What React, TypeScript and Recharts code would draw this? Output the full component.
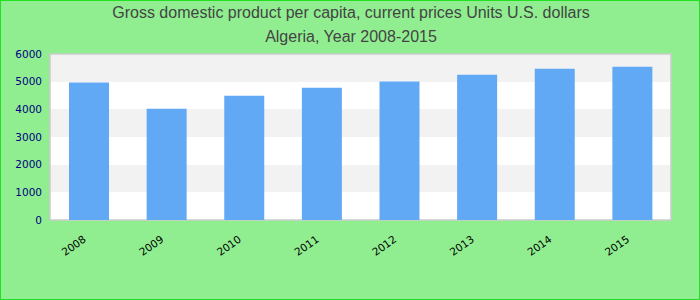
import React from 'react';
import { Bar, BarChart, CartesianGrid, ReferenceArea, XAxis, YAxis } from 'recharts';

const years = ['2008', '2009', '2010', '2011', '2012', '2013', '2014', '2015'];
const gdpPerCapita = [4966, 4022, 4493, 4783, 5005, 5254, 5471, 5543];
const yTicks = [0, 1000, 2000, 3000, 4000, 5000, 6000];

const chartData = years.map((year, i) => ({ year, value: gdpPerCapita[i] }));

const YearTick = (props: any) => {
  const { x, y, payload } = props;
  return (
    <text
      x={x - 2}
      y={y + 13}
      transform={`rotate(-35, ${x - 2}, ${y + 13})`}
      textAnchor="end"
      fontSize={10.5}
      fontFamily="DejaVu Sans, sans-serif"
      fill="#000"
    >
      {payload.value}
    </text>
  );
};

const App: React.FC = () => {
  return (
    <div
      style={{
        position: 'absolute',
        left: 0,
        top: 0,
        width: 700,
        height: 300,
        background: '#90ee90',
        border: '1px solid #22e022',
        boxSizing: 'border-box',
        fontFamily: 'Liberation Sans, Arial, sans-serif',
      }}
    >
      <div
        style={{
          position: 'absolute',
          left: 0,
          top: 0,
          width: 700,
          textAlign: 'center',
          fontSize: 16,
          lineHeight: '24px',
          color: '#444',
        }}
      >
        <div>Gross domestic product per capita, current prices Units U.S. dollars</div>
        <div>Algeria, Year 2008-2015</div>
      </div>
      <div style={{ position: 'absolute', left: -1, top: -1 }}>
        <BarChart width={700} height={300} data={chartData} margin={{ top: 54, right: 29, bottom: 40, left: 0 }}>
          <CartesianGrid
            horizontal
            vertical={false}
            stroke="none"
            horizontalFill={['#f2f2f2', '#ffffff']}
            fillOpacity={1}
          />
          <ReferenceArea y1={0} y2={6000} fill="none" stroke="#cccccc" strokeWidth={1.5} ifOverflow="visible" />
          <XAxis
            dataKey="year"
            height={40}
            tickLine={false}
            axisLine={false}
            interval={0}
            tick={<YearTick />}
          />
          <YAxis
            width={50}
            domain={[0, 6000]}
            ticks={yTicks}
            tickLine={false}
            axisLine={false}
            tick={{ fill: '#000080', fontSize: 10.5, fontFamily: 'DejaVu Sans, sans-serif' }}
          />
          <Bar dataKey="value" fill="#62a9f5" barSize={40} isAnimationActive={false} />
        </BarChart>
      </div>
    </div>
  );
};

export default App;
